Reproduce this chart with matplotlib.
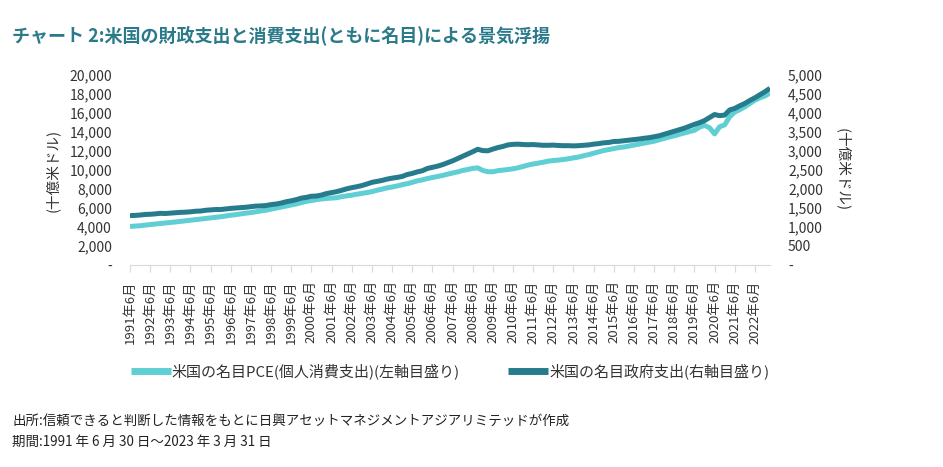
import matplotlib
matplotlib.use("Agg")
import matplotlib.pyplot as plt
import numpy as np

plt.rcParams['font.family'] = ['Noto Sans CJK JP', 'DejaVu Sans']

# 四半期データ 1991年6月〜2023年3月（十億米ドル）
pce = [4050, 4100, 4130, 4200, 4250, 4310, 4370, 4420, 4470, 4530,
       4590, 4650, 4710, 4770, 4830, 4880, 4960, 5020, 5080, 5160,
       5240, 5300, 5380, 5460, 5520, 5610, 5690, 5770, 5880, 5980,
       6090, 6200, 6320, 6430, 6560, 6700, 6790, 6880, 6950, 7010,
       7050, 7080, 7200, 7270, 7350, 7450, 7530, 7620, 7720, 7870,
       7980, 8120, 8210, 8320, 8450, 8560, 8700, 8860, 8960, 9100,
       9210, 9330, 9420, 9560, 9680, 9800, 9950, 10050, 10170, 10230,
       9950, 9820, 9810, 9930, 9990, 10050, 10130, 10230, 10380, 10520,
       10630, 10720, 10820, 10930, 11000, 11040, 11100, 11190, 11270, 11360,
       11500, 11620, 11760, 11900, 12050, 12150, 12260, 12360, 12420, 12520,
       12620, 12730, 12830, 12920, 13030, 13180, 13330, 13480, 13600, 13760,
       13900, 14030, 14180, 14500, 14700, 14450, 13800, 14550, 14750, 15600,
       16100, 16350, 16650, 17000, 17350, 17600, 17800, 18100]

gov = [1300, 1305, 1315, 1330, 1335, 1345, 1360, 1355, 1365, 1375,
       1385, 1390, 1400, 1415, 1420, 1440, 1450, 1460, 1460, 1475,
       1490, 1500, 1510, 1520, 1535, 1550, 1555, 1565, 1590, 1605,
       1630, 1665, 1690, 1720, 1760, 1780, 1810, 1815, 1840, 1880,
       1905, 1930, 1965, 2005, 2035, 2060, 2090, 2130, 2175, 2200,
       2225, 2260, 2285, 2305, 2330, 2380, 2410, 2450, 2480, 2540,
       2570, 2600, 2640, 2690, 2740, 2800, 2860, 2920, 2980, 3045,
       3010, 3005, 3050, 3090, 3120, 3160, 3175, 3180, 3170, 3165,
       3170, 3160, 3150, 3150, 3155, 3145, 3140, 3140, 3135, 3140,
       3150, 3160, 3180, 3195, 3215, 3225, 3250, 3255, 3270, 3285,
       3300, 3315, 3335, 3350, 3375, 3400, 3440, 3480, 3520, 3560,
       3600, 3650, 3700, 3745, 3800, 3880, 3960, 3930, 3945, 4080,
       4120, 4190, 4250, 4330, 4400, 4480, 4560, 4650]

tick_labels = [f"{y}年6月" for y in range(1991, 2023)]
left_ticks = [0, 2000, 4000, 6000, 8000, 10000, 12000, 14000, 16000, 18000, 20000]
left_labels = ["-", "2,000", "4,000", "6,000", "8,000", "10,000", "12,000",
               "14,000", "16,000", "18,000", "20,000"]
right_ticks = [0, 500, 1000, 1500, 2000, 2500, 3000, 3500, 4000, 4500, 5000]
right_labels = ["-", "500", "1,000", "1,500", "2,000", "2,500", "3,000",
                "3,500", "4,000", "4,500", "5,000"]

light = "#5FCFD4"
dark = "#267C8C"
txt = "#333333"

fig = plt.figure(figsize=(9.43, 4.67), dpi=100)
ax = fig.add_axes([130 / 943, 1 - 265 / 467, 640 / 943, 190 / 467])
ax2 = ax.twinx()

x = np.arange(len(pce))
l1, = ax.plot(x, pce, color=light, lw=3.6, solid_capstyle='butt',
              label="米国の名目PCE(個人消費支出)(左軸目盛り)")
l2, = ax2.plot(x, gov, color=dark, lw=3.6, solid_capstyle='butt',
               label="米国の名目政府支出(右軸目盛り)")

ax.set_xlim(0, len(pce) - 1)
ax.set_ylim(0, 20000)
ax2.set_ylim(0, 5000)

ax.set_xticks(np.arange(0, len(pce), 4))
ax.set_xticklabels(tick_labels, rotation=90, fontsize=9.5, color=txt)
ax.set_yticks(left_ticks)
ax.set_yticklabels(left_labels, fontsize=10, color=txt)
ax2.set_yticks(right_ticks)
ax2.set_yticklabels(right_labels, fontsize=10, color=txt)

ax.tick_params(axis='x', length=5, color="#D9D9D9", pad=6)
ax.tick_params(axis='y', length=0, pad=13)
ax2.tick_params(axis='y', length=0, pad=13)

for a in (ax, ax2):
    for s in ('top', 'left', 'right'):
        a.spines[s].set_visible(False)
ax2.spines['bottom'].set_visible(False)
ax.spines['bottom'].set_color("#D9D9D9")

fig.text(52 / 943, 1 - 170 / 467, "(十億米ドル)", rotation=90,
         ha='center', va='center', fontsize=10.5, color=txt)
fig.text(843 / 943, 1 - 170 / 467, "(十億米ドル)", rotation=270,
         ha='center', va='center', fontsize=10.5, color=txt)

fig.text(12 / 943, 1 - 35 / 467, "チャート 2:米国の財政支出と消費支出(ともに名目)による景気浮揚",
         fontsize=13, fontweight='bold', color="#2B7A8A", ha='left', va='center')

leg = fig.legend(handles=[l1, l2], loc='center left', bbox_to_anchor=(117 / 943, 1 - 371 / 467),
                 ncol=2, frameon=False, fontsize=10.8, handlelength=2.7, handletextpad=0.05,
                 columnspacing=3.2, labelcolor=txt)
for h in leg.get_lines():
    h.set_linewidth(5)

fig.text(12 / 943, 1 - 421 / 467,
         "出所:信頼できると判断した情報をもとに日興アセットマネジメントアジアリミテッドが作成",
         fontsize=9.7, color="#222222", ha='left', va='center')
fig.text(12 / 943, 1 - 442 / 467, "期間:1991 年 6 月 30 日～2023 年 3 月 31 日",
         fontsize=9.7, color="#222222", ha='left', va='center')

fig.savefig("out.png", dpi=100)
